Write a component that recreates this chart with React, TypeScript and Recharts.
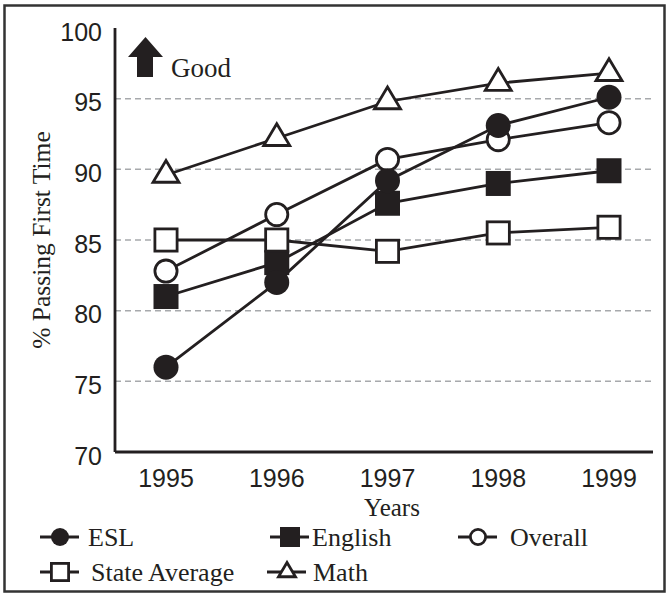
import React from 'react';
import { LineChart, Line, XAxis, YAxis, ReferenceLine } from 'recharts';

const years = ['1995', '1996', '1997', '1998', '1999'];
const esl = [76, 82, 89.2, 93.1, 95.1];
const english = [81, 83.4, 87.6, 89, 89.9];
const overall = [82.8, 86.8, 90.7, 92.1, 93.3];
const stateAverage = [85, 85, 84.2, 85.5, 85.9];
const math = [89.6, 92.2, 94.8, 96.1, 96.8];

const yTicks = [70, 75, 80, 85, 90, 95, 100];
const gridValues = [75, 80, 85, 90, 95];

const INK = '#231f20';
const GRID = '#a7a9ac';
const SANS = '"Liberation Sans", Arial, sans-serif';
const SERIF = '"Liberation Serif", "Times New Roman", serif';

type Shape = 'dot' | 'square' | 'ring' | 'box' | 'triangle';

const data = years.map((year, i) => ({
  year,
  esl: esl[i],
  english: english[i],
  overall: overall[i],
  stateAverage: stateAverage[i],
  math: math[i],
}));

// draw order matters: later series sit on top
const series: { key: string; shape: Shape }[] = [
  { key: 'overall', shape: 'ring' },
  { key: 'english', shape: 'square' },
  { key: 'stateAverage', shape: 'box' },
  { key: 'esl', shape: 'dot' },
  { key: 'math', shape: 'triangle' },
];

const legendItems: { name: string; shape: Shape; x: number; textX: number; y: number }[] = [
  { name: 'ESL', shape: 'dot', x: 60, textX: 88, y: 537 },
  { name: 'English', shape: 'square', x: 290, textX: 312, y: 537 },
  { name: 'Overall', shape: 'ring', x: 478, textX: 510, y: 537 },
  { name: 'State Average', shape: 'box', x: 60, textX: 91, y: 572 },
  { name: 'Math', shape: 'triangle', x: 287, textX: 313, y: 572 },
];

function Marker({ shape, cx, cy, size }: { shape: Shape; cx: number; cy: number; size: number }) {
  const r = size / 2;
  const sw = 2.8;
  switch (shape) {
    case 'dot':
      return <circle cx={cx} cy={cy} r={r} fill={INK} />;
    case 'ring':
      return <circle cx={cx} cy={cy} r={r - sw / 2} fill="#fff" stroke={INK} strokeWidth={sw} />;
    case 'square':
      return <rect x={cx - r} y={cy - r} width={size} height={size} fill={INK} />;
    case 'box':
      return (
        <rect x={cx - r + sw / 2} y={cy - r + sw / 2} width={size - sw} height={size - sw} fill="#fff" stroke={INK} strokeWidth={sw} />
      );
    case 'triangle': {
      const w = size;
      const h = size * 0.84;
      const pts = `${cx},${cy - (h * 2) / 3} ${cx + w / 2},${cy + h / 3} ${cx - w / 2},${cy + h / 3}`;
      return <polygon points={pts} fill="#fff" stroke={INK} strokeWidth={sw} strokeLinejoin="miter" />;
    }
  }
  return null;
}

const renderDot = (key: string, shape: Shape) => (props: any) => (
  <g key={`${key}-${props.index}`}>
    <Marker shape={shape} cx={props.cx} cy={props.cy} size={shape === 'triangle' ? 26 : 25} />
  </g>
);

const YTick = (props: any) => (
  <text x={102} y={props.y + 12.5} textAnchor="end" fontFamily={SANS} fontSize={25} fill={INK}>
    {props.payload.value}
  </text>
);

const XTick = (props: any) => (
  <text x={props.x} y={props.y + 35} textAnchor="middle" fontFamily={SANS} fontSize={25} fill={INK}>
    {props.payload.value}
  </text>
);

function Overlay() {
  return (
    <svg width={668} height={594} style={{ position: 'absolute', left: 0, top: 0, pointerEvents: 'none' }}>
      <rect x={4.5} y={5.5} width={660} height={586} fill="none" stroke="#333" strokeWidth={2.5} />
      <polygon points="128,57 145.5,37 163,57" fill={INK} />
      <rect x={137} y={56} width={16} height={21} fill={INK} />
      <text x={171} y={77} fontFamily={SERIF} fontSize={27} fill={INK}>
        Good
      </text>
      <text
        x={50}
        y={240}
        transform="rotate(-90 50 240)"
        textAnchor="middle"
        fontFamily={SERIF}
        fontSize={25.5}
        fill={INK}
      >
        % Passing First Time
      </text>
      <text x={392} y={516} textAnchor="middle" fontFamily={SERIF} fontSize={25} fill={INK}>
        Years
      </text>
      {legendItems.map((item) => (
        <g key={item.name}>
          <line x1={item.x - 20} x2={item.x + 19} y1={item.y} y2={item.y} stroke={INK} strokeWidth={2.8} />
          {item.shape === 'triangle' ? (
            <Marker shape="triangle" cx={item.x} cy={item.y} size={17} />
          ) : (
            <Marker shape={item.shape} cx={item.x} cy={item.y} size={item.shape === 'square' || item.shape === 'box' ? 20 : 18} />
          )}
          <text x={item.textX} y={item.y + 9} fontFamily={SERIF} fontSize={26} fill={INK}>
            {item.name}
          </text>
        </g>
      ))}
    </svg>
  );
}

export default function App() {
  return (
    <div style={{ position: 'absolute', left: 0, top: 0, width: 668, height: 594, background: '#fff' }}>
      <div style={{ position: 'absolute', left: 0, top: 0 }}>
        <LineChart width={668} height={594} data={data} margin={{ top: 28, right: 15, left: 0, bottom: 82 }}>
          {gridValues.map((v) => (
            <ReferenceLine key={v} y={v} stroke={GRID} strokeWidth={1.5} strokeDasharray="6 4" />
          ))}
          <XAxis
            dataKey="year"
            type="category"
            padding={{ left: 51, right: 44 }}
            axisLine={{ stroke: INK, strokeWidth: 2.8 }}
            tickLine={false}
            tickSize={0}
            tickMargin={0}
            tick={<XTick />}
            interval={0}
            height={60}
          />
          <YAxis
            type="number"
            domain={[70, 100]}
            ticks={yTicks}
            interval={0}
            axisLine={{ stroke: INK, strokeWidth: 2.8 }}
            tickLine={false}
            tickSize={0}
            tick={<YTick />}
            width={115}
          />
          {series.map((s) => (
            <Line
              key={s.key}
              type="linear"
              dataKey={s.key}
              stroke={INK}
              strokeWidth={2.8}
              dot={renderDot(s.key, s.shape)}
              activeDot={false}
              isAnimationActive={false}
            />
          ))}
        </LineChart>
      </div>
      <Overlay />
    </div>
  );
}
